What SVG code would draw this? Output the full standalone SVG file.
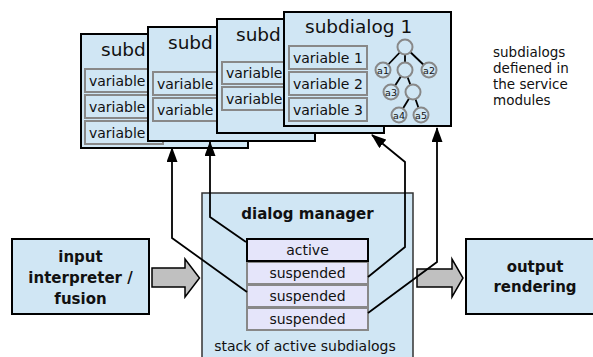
<svg xmlns="http://www.w3.org/2000/svg" width="593" height="357" viewBox="0 0 593 357">
<style>
text{font-family:"DejaVu Sans","Liberation Sans",sans-serif;fill:#111}
.card{fill:#d0e6f4;stroke:#000;stroke-width:2}
.title{font-size:18.5px}
.var{fill:#d0e6f4;stroke:#888;stroke-width:2}
.vt{font-size:14px}
.tn{fill:#d0e6f4;stroke:#888;stroke-width:2}
.te{stroke:#000;stroke-width:1.8}
.tl{font-size:9.5px;text-anchor:middle}
.box{fill:#d0e6f4;stroke:#000;stroke-width:2}
.bold{font-size:15px;font-weight:bold;text-anchor:middle}
.stk{fill:#e5e5fa;stroke:#888;stroke-width:2}
.st{font-size:14px;text-anchor:middle}
.big{fill:#c0c0c0;stroke:#000;stroke-width:1.5}
.con{fill:none;stroke:#000;stroke-width:1.8}
.side{font-size:13.5px}
</style>
<defs>
<marker id="ah" viewBox="0 0 15 11" refX="14" refY="5.5" markerWidth="15" markerHeight="11" markerUnits="userSpaceOnUse" orient="auto">
<path d="M0,0 L15,5.5 L0,11 Z" fill="#000"/>
</marker>
</defs>

<g id="card1">
<rect class="card" x="81" y="34" width="167" height="114"/>
<text class="title" x="101" y="56">subd</text>
<rect class="var" x="85" y="69" width="78" height="23"/>
<text class="vt" x="89" y="86">variable</text>
<rect class="var" x="85" y="95" width="78" height="23"/>
<text class="vt" x="89" y="112">variable</text>
<rect class="var" x="85" y="121" width="78" height="23"/>
<text class="vt" x="89" y="138">variable</text>
</g>

<g id="card2">
<rect class="card" x="148" y="27" width="167" height="114"/>
<text class="title" x="168" y="49">subd</text>
<rect class="var" x="153" y="72" width="78" height="23"/>
<text class="vt" x="157" y="89">variable</text>
<rect class="var" x="153" y="98" width="78" height="23"/>
<text class="vt" x="157" y="115">variable</text>
</g>

<g id="card3">
<rect class="card" x="217" y="19" width="167" height="114"/>
<text class="title" x="236" y="41">subd</text>
<rect class="var" x="222" y="62" width="78" height="22"/>
<text class="vt" x="226" y="78">variable</text>
<rect class="var" x="222" y="87" width="78" height="23"/>
<text class="vt" x="226" y="104">variable</text>
</g>

<g id="card4">
<rect class="card" x="284" y="12" width="167" height="114"/>
<text class="title" x="305" y="33">subdialog 1</text>
<rect class="var" x="289" y="46" width="78" height="23"/>
<text class="vt" x="293" y="63">variable 1</text>
<rect class="var" x="289" y="72" width="78" height="23"/>
<text class="vt" x="293" y="89">variable 2</text>
<rect class="var" x="289" y="98" width="78" height="23"/>
<text class="vt" x="293" y="115">variable 3</text>
<g id="tree">
<line class="te" x1="405" y1="47" x2="383" y2="70"/>
<line class="te" x1="405" y1="47" x2="405" y2="70"/>
<line class="te" x1="405" y1="47" x2="429" y2="70"/>
<line class="te" x1="405" y1="70" x2="391" y2="92"/>
<line class="te" x1="405" y1="70" x2="413" y2="92"/>
<line class="te" x1="413" y1="92" x2="399" y2="115"/>
<line class="te" x1="413" y1="92" x2="421" y2="115"/>
<circle class="tn" cx="405" cy="47" r="7.5"/>
<circle class="tn" cx="383" cy="70" r="7.5"/>
<circle class="tn" cx="405" cy="70" r="7.5"/>
<circle class="tn" cx="429" cy="70" r="7.5"/>
<circle class="tn" cx="391" cy="92" r="7.5"/>
<circle class="tn" cx="413" cy="92" r="7.5"/>
<circle class="tn" cx="399" cy="115" r="7.5"/>
<circle class="tn" cx="421" cy="115" r="7.5"/>
<text class="tl" x="383" y="73.5">a1</text>
<text class="tl" x="429" y="73.5">a2</text>
<text class="tl" x="391" y="95.5">a3</text>
<text class="tl" x="399" y="118.5">a4</text>
<text class="tl" x="421" y="118.5">a5</text>
</g>
</g>

<g id="note">
<text class="side" x="493" y="57">subdialogs</text>
<text class="side" x="493" y="73">defiened in</text>
<text class="side" x="493" y="89">the service</text>
<text class="side" x="493" y="105">modules</text>
</g>

<g id="input">
<rect class="box" x="12" y="239" width="137" height="75"/>
<text class="bold" x="80.5" y="262">input</text>
<text class="bold" x="80.5" y="283">interpreter /</text>
<text class="bold" x="80.5" y="304">fusion</text>
</g>

<g id="output">
<rect class="box" x="466" y="239" width="140" height="75"/>
<text class="bold" x="535" y="272">output</text>
<text class="bold" x="535" y="292">rendering</text>
</g>

<g id="dialog-manager">
<rect x="202" y="193" width="211" height="170" fill="#d0e6f4" stroke="#333" stroke-width="1.5"/>
<text class="bold" x="307.5" y="219">dialog manager</text>
<rect class="stk" x="247" y="262" width="121" height="22"/>
<rect class="stk" x="247" y="285" width="121" height="22"/>
<rect class="stk" x="247" y="308" width="121" height="22"/>
<rect x="247" y="239" width="121" height="22" fill="#e5e5fa" stroke="#000" stroke-width="2"/>
<text class="st" x="307.5" y="255">active</text>
<text class="st" x="307.5" y="278">suspended</text>
<text class="st" x="307.5" y="301">suspended</text>
<text class="st" x="307.5" y="324">suspended</text>
<text class="st" x="305" y="351">stack of active subdialogs</text>
</g>

<g id="flow-arrows">
<path class="big" d="M152,268 L185,268 L185,259 L199.5,278 L185,297 L185,287 L152,287 Z"/>
<path class="big" d="M417,269 L452,269 L452,259 L463,278 L452,297 L452,287 L417,287 Z"/>
</g>

<g id="connectors">
<polyline class="con" points="247,292 172,238 172,148" marker-end="url(#ah)"/>
<polyline class="con" points="246,242 210,217 210,142" marker-end="url(#ah)"/>
<polyline class="con" points="368,277 405,247 405,162 372,135" marker-end="url(#ah)"/>
<polyline class="con" points="368,313 437,262 437,128" marker-end="url(#ah)"/>
</g>
</svg>
